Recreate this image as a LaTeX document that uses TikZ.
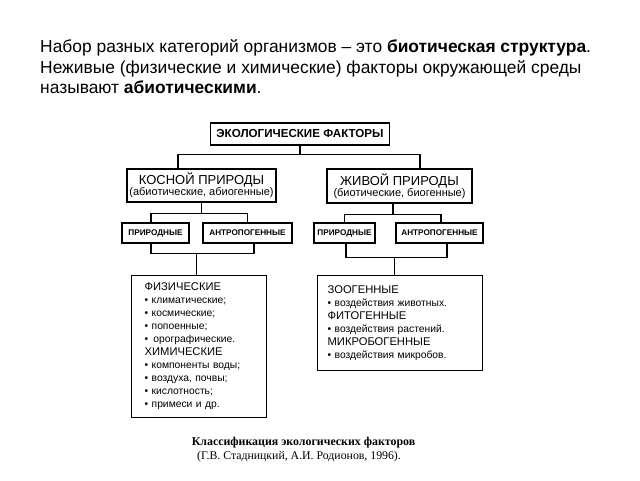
\documentclass[tikz,border=0pt]{standalone}
\usepackage{fontspec}
\setmainfont{Liberation Sans}
\newfontfamily\capfont{Liberation Serif}
\newcommand{\grp}[1]{{\fontsize{11.2}{13}\selectfont #1}}
\begin{document}
\begin{tikzpicture}[
    x=1pt,y=-1pt,
    box/.style={draw=black,line width=1.3pt,inner sep=0pt,align=center},
    smallbox/.style={box,minimum height=20pt,font=\fontsize{8.2}{9}\selectfont\bfseries},
    bigbox/.style={box,align=left,inner xsep=12pt,anchor=north west,
                   font=\fontsize{10.3}{13}\selectfont},
    link/.style={draw=black,line width=1.3pt},
    intro/.style={anchor=base west,inner sep=0pt,font=\fontsize{17.4}{20}\selectfont}]
 \useasboundingbox (0,0) rectangle (640,480);
 % text above the scheme
 \node[intro] (l1) at (40,52) {Набор разных категорий организмов -- это \textbf{биотическая структура}.};
 \node[intro] (l2) at (40,73) {Неживые (физические и химические) факторы окружающей среды};
 \node[intro] (l3) at (40,93) {называют \textbf{абиотическими}.};
 % scheme
 \node[box,minimum width=179pt,minimum height=22pt,font=\fontsize{11.6}{13}\selectfont\bfseries]
   (eco) at (300,134) {ЭКОЛОГИЧЕСКИЕ ФАКТОРЫ};
 \node[box,minimum width=149pt,minimum height=33pt]
   (kos) at (201.5,185.5) {{\fontsize{13}{13}\selectfont КОСНОЙ ПРИРОДЫ}\\[-1pt]
                           {\fontsize{11}{13}\selectfont (абиотические, абиогенные)}};
 \node[box,minimum width=145pt,minimum height=34pt]
   (ziv) at (399.5,186) {{\fontsize{13}{13}\selectfont ЖИВОЙ ПРИРОДЫ}\\[-1pt]
                         {\fontsize{11}{13}\selectfont (биотические, биогенные)}};
 \node[smallbox,minimum width=67pt] (pr1) at (155.5,233) {ПРИРОДНЫЕ};
 \node[smallbox,minimum width=89pt] (an1) at (247.5,233) {АНТРОПОГЕННЫЕ};
 \node[smallbox,minimum width=61pt] (pr2) at (344.5,233) {ПРИРОДНЫЕ};
 \node[smallbox,minimum width=87pt] (an2) at (439.5,233) {АНТРОПОГЕННЫЕ};
 \node[bigbox,inner xsep=13pt,minimum width=135pt,minimum height=142pt,text width=109pt] (fiz) at (131,275) {%
   \grp{ФИЗИЧЕСКИЕ}\\
   • климатические;\\
   • космические;\\
   • попоенные;\\
   • \,орографические.\\
   \grp{ХИМИЧЕСКИЕ}\\
   • компоненты воды;\\
   • воздуха, почвы;\\
   • кислотность;\\
   • примеси и др.};
 \node[bigbox,inner xsep=10pt,minimum width=165pt,minimum height=95pt,text width=145pt] (bio) at (317,275) {%
   \grp{ЗООГЕННЫЕ}\\
   • воздействия животных.\\
   \grp{ФИТОГЕННЫЕ}\\
   • воздействия растений.\\
   \grp{МИКРОБОГЕННЫЕ}\\
   • воздействия микробов.};
 % connectors
 \path[link] (eco.south) -- ++(0,9) coordinate (j0);
 \path[link] ([xshift=-23.5pt]kos.north) |- (j0) -| ([xshift=20.5pt]ziv.north);
 \path[link] (kos.south) -- ++(0,11) coordinate (j1);
 \path[link] ([xshift=-4.5pt]pr1.north) |- (j1) -| (an1.north);
 \path[link] ([xshift=-6.5pt]ziv.south) -- ++(0,11) coordinate (j2);
 \path[link] (pr2.north) |- (j2) -| ([xshift=1.5pt]an2.north);
 \path[link] ([xshift=-4.5pt]pr1.south) -- ++(0,10) coordinate (j3) -| ([xshift=6.5pt]an1.south);
 \path[link] ([xshift=-2.5pt]fiz.north) -- ([xshift=-2.5pt]fiz.north |- j3);
 \path[link] ([xshift=1.5pt]pr2.south) -- ++(0,14) coordinate (j4) -| ([xshift=7.5pt]an2.south);
 \path[link] ([xshift=-5.5pt]bio.north) -- ([xshift=-5.5pt]bio.north |- j4);
 % caption
 \node[font=\capfont\fontsize{11.9}{13}\selectfont\bfseries,inner sep=0pt] (cap1) at (303.5,443)
   {Классификация экологических факторов};
 \node[font=\capfont\fontsize{11.8}{13}\selectfont,inner sep=0pt] (cap2) at (299,457)
   {(Г.В. Стадницкий, А.И. Родионов, 1996).};
\end{tikzpicture}
\end{document}
